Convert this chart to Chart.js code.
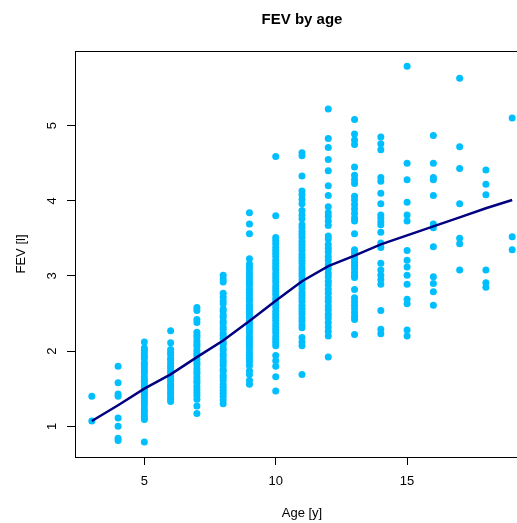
<!DOCTYPE html>
<html>
<head>
<meta charset="utf-8">
<title>FEV by age</title>
<script src="https://cdn.jsdelivr.net/npm/chart.js@4/dist/chart.umd.min.js"></script>
<style>
  html, body { margin: 0; padding: 0; background: #fff; overflow: hidden; }
  #wrap { width: 560px; height: 523px; }
</style>
</head>
<body>
<div id="wrap"><canvas id="fevChart" width="560" height="523"></canvas></div>
<script>
// ages in years, one column of measurements per age
const ages = [3, 4, 5, 6, 7, 8, 9, 10, 11, 12, 13, 14, 15, 16, 17, 18, 19];

// forced expiratory volume (litres) per age
const fev3 = [1.40, 1.07];
const fev4 = [1.80, 1.58, 1.43, 1.40, 1.11, 1.00, 0.84, 0.81];
const fev5 = [2.12, 2.04, 2.01, 1.97, 1.93, 1.90, 1.85, 1.82, 1.78, 1.74, 1.71, 1.66, 1.62, 1.60, 1.56,
  1.52, 1.49, 1.45, 1.42, 1.38, 1.34, 1.31, 1.27, 1.22, 1.19, 1.15, 1.12, 1.09, 0.79];
const fev6 = [2.27, 2.11, 2.02, 1.98, 1.95, 1.90, 1.88, 1.84, 1.80, 1.77, 1.73, 1.70, 1.66, 1.63, 1.60,
  1.56, 1.53, 1.50, 1.46, 1.43, 1.39, 1.36, 1.33];
const fev7 = [2.58, 2.54, 2.42, 2.38, 2.25, 2.21, 2.18, 2.13, 2.09, 2.06, 2.01, 1.97, 1.94, 1.89, 1.85,
  1.82, 1.77, 1.73, 1.70, 1.65, 1.61, 1.58, 1.53, 1.49, 1.45, 1.41, 1.36, 1.27, 1.17];
const fev8 = [3.01, 2.96, 2.92, 2.77, 2.72, 2.67, 2.63, 2.56, 2.53, 2.48, 2.45, 2.40, 2.37, 2.32, 2.29,
  2.24, 2.21, 2.17, 2.12, 2.09, 2.04, 2.01, 1.96, 1.93, 1.88, 1.85, 1.81, 1.76, 1.73, 1.68, 1.65,
  1.61, 1.56, 1.52, 1.48, 1.44, 1.40, 1.35, 1.30];
const fev9 = [3.84, 3.69, 3.56, 3.23, 3.16, 3.12, 3.08, 3.03, 2.99, 2.95, 2.91, 2.87, 2.82, 2.78, 2.74,
  2.70, 2.66, 2.61, 2.57, 2.53, 2.49, 2.45, 2.40, 2.36, 2.32, 2.28, 2.24, 2.19, 2.15, 2.11, 2.07,
  2.03, 1.98, 1.94, 1.90, 1.86, 1.81, 1.74, 1.69, 1.61, 1.56];
const fev10 = [4.59, 3.80, 3.51, 3.47, 3.43, 3.38, 3.34, 3.30, 3.26, 3.21, 3.17, 3.13, 3.09, 3.04, 3.00,
  2.96, 2.92, 2.87, 2.83, 2.79, 2.75, 2.70, 2.66, 2.62, 2.58, 2.53, 2.49, 2.45, 2.41, 2.36, 2.32,
  2.28, 2.24, 2.19, 2.15, 2.11, 2.07, 1.94, 1.87, 1.80, 1.66, 1.47];
const fev11 = [4.64, 4.60, 4.33, 4.13, 4.08, 4.02, 3.96, 3.87, 3.81, 3.76, 3.68, 3.64, 3.59, 3.55, 3.51,
  3.46, 3.42, 3.38, 3.34, 3.29, 3.25, 3.21, 3.17, 3.12, 3.08, 3.04, 3.00, 2.95, 2.91, 2.87, 2.83,
  2.78, 2.74, 2.70, 2.66, 2.61, 2.57, 2.53, 2.49, 2.44, 2.40, 2.35, 2.31, 2.18, 2.12, 2.07, 1.69];
const fev12 = [5.22, 4.83, 4.71, 4.55, 4.40, 4.20, 4.07, 3.92, 3.84, 3.79, 3.73, 3.67, 3.53, 3.49,
  3.42, 3.37, 3.32, 3.26, 3.21, 3.15, 3.10, 3.04, 2.99, 2.93, 2.88, 2.82, 2.77, 2.71, 2.66, 2.60,
  2.55, 2.49, 2.44, 2.38, 2.32, 2.26, 2.20, 1.92];
const fev13 = [5.08, 4.89, 4.81, 4.75, 4.45, 4.34, 4.28, 4.23, 4.06, 4.01, 3.95, 3.89, 3.83, 3.77, 3.73,
  3.56, 3.35, 3.31, 3.27, 3.22, 3.18, 3.14, 3.10, 3.05, 3.01, 2.98, 2.82, 2.71, 2.66, 2.61, 2.56,
  2.51, 2.46, 2.42, 2.22];
const fev14 = [4.85, 4.76, 4.68, 4.31, 4.26, 4.10, 3.96, 3.81, 3.77, 3.72, 3.68, 3.58, 3.44, 3.38, 3.17,
  3.08, 3.01, 2.95, 2.89, 2.54, 2.29, 2.23];
const fev15 = [5.79, 4.50, 4.28, 3.98, 3.81, 3.73, 3.34, 3.21, 3.12, 3.01, 2.89, 2.69, 2.63, 2.28, 2.20];
const fev16 = [4.87, 4.50, 4.31, 4.28, 4.07, 3.69, 3.64, 3.39, 2.99, 2.90, 2.79, 2.61];
const fev17 = [5.63, 4.72, 4.43, 3.96, 3.50, 3.43, 3.08];
const fev18 = [4.41, 4.22, 4.08, 3.08, 2.91, 2.85];
const fev19 = [5.10, 3.52, 3.35];

// smoothed trend, one value per age
const smoothFev = [1.07, 1.28, 1.50, 1.69, 1.92, 2.14, 2.40, 2.67, 2.93, 3.13, 3.27, 3.42, 3.54, 3.66, 3.78, 3.90, 4.01];

const xTicks = [5, 10, 15];
const yTicks = [1, 2, 3, 4, 5];

const fevByAge = [fev3, fev4, fev5, fev6, fev7, fev8, fev9, fev10, fev11, fev12, fev13, fev14, fev15,
  fev16, fev17, fev18, fev19];

const points = [];
ages.forEach((age, i) => {
  fevByAge[i].forEach(v => points.push({ x: age, y: v }));
});
const trend = ages.map((age, i) => ({ x: age, y: smoothFev[i] }));

const FONT = "'Liberation Sans', Arial, Helvetica, sans-serif";

// box around the plot, the main title and the upright y tick labels
const framePlugin = {
  id: 'frame',
  afterDraw(chart) {
    const { ctx, chartArea: a, scales } = chart;
    ctx.save();
    ctx.strokeStyle = '#000';
    ctx.lineWidth = 1;
    ctx.strokeRect(Math.round(a.left) + 0.5, Math.round(a.top) + 0.5,
      Math.round(a.right - a.left), Math.round(a.bottom - a.top));

    ctx.fillStyle = '#000';
    ctx.textAlign = 'center';
    ctx.textBaseline = 'middle';
    ctx.font = 'bold 15px ' + FONT;
    ctx.fillText('FEV by age', (a.left + a.right) / 2, 20);

    ctx.font = '13px ' + FONT;
    yTicks.forEach(v => {
      const py = scales.y.getPixelForValue(v);
      ctx.save();
      ctx.translate(a.left - 23, py);
      ctx.rotate(-Math.PI / 2);
      ctx.fillText(String(v), 0, 0);
      ctx.restore();
    });
    ctx.restore();
  }
};

const tickGrid = {
  drawOnChartArea: false,
  drawTicks: true,
  tickLength: 8,
  color: '#000',
  lineWidth: 1
};

new Chart(document.getElementById('fevChart'), {
  type: 'scatter',
  data: {
    datasets: [
      {
        label: 'FEV',
        data: points,
        order: 1,
        pointRadius: 3.5,
        pointHoverRadius: 3.5,
        pointBackgroundColor: '#00BFFF',
        pointBorderWidth: 0
      },
      {
        label: 'trend',
        data: trend,
        order: 0,
        showLine: true,
        borderColor: '#000080',
        borderWidth: 2.5,
        tension: 0,
        pointRadius: 0,
        fill: false
      }
    ]
  },
  options: {
    responsive: false,
    animation: false,
    devicePixelRatio: 1,
    layout: { padding: { left: 0, right: 31, top: 51, bottom: 0 } },
    plugins: {
      legend: { display: false },
      tooltip: { enabled: false },
      title: { display: false }
    },
    scales: {
      x: {
        type: 'linear',
        min: 2.36,
        max: 19.64,
        afterBuildTicks: s => { s.ticks = xTicks.map(v => ({ value: v })); },
        afterFit: s => { s.height = 66; },
        grid: tickGrid,
        border: { display: false },
        ticks: {
          color: '#000',
          font: { family: FONT, size: 13 },
          padding: 9,
          maxRotation: 0,
          autoSkip: false
        },
        title: {
          display: true,
          text: 'Age [y]',
          color: '#000',
          font: { family: FONT, size: 13 },
          padding: { top: 0, bottom: 2 }
        }
      },
      y: {
        type: 'linear',
        min: 0.591,
        max: 5.993,
        afterBuildTicks: s => { s.ticks = yTicks.map(v => ({ value: v })); },
        afterFit: s => { s.width = 75; },
        grid: tickGrid,
        border: { display: false },
        ticks: { display: false },
        title: {
          display: true,
          text: 'FEV [l]',
          color: '#000',
          font: { family: FONT, size: 13 },
          padding: { top: 14, bottom: 0 }
        }
      }
    }
  },
  plugins: [framePlugin]
});
</script>
</body>
</html>
